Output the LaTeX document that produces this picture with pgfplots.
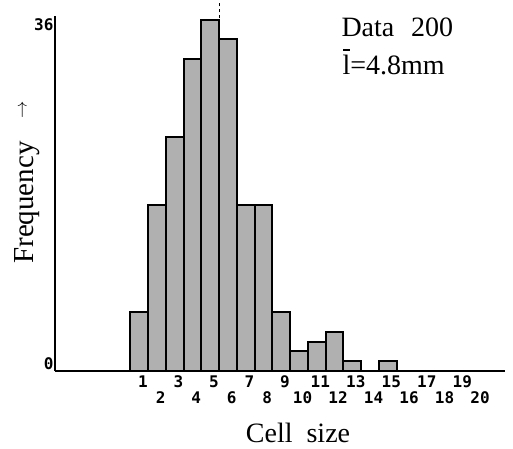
\documentclass[border=0pt]{standalone}
\usepackage{fontspec}
\setmainfont{Liberation Serif}
\setmonofont{DejaVu Sans Mono}
\usepackage{pgfplots}
\usepackage{pgfplotstable}
\pgfplotsset{compat=1.18}

% cell size (mm) and number of cells
\pgfplotstableread{
size freq
1  6
2  17
3  24
4  32
5  36
6  34
7  17
8  17
9  6
10 2
11 3
12 4
13 1
14 0
15 1
}\cellsizes

\newcommand\lbar{\ooalign{l\cr\hidewidth\rule[0.86em]{0.24em}{0.06em}\hidewidth\cr}}

\begin{document}
\begin{tikzpicture}
\begin{axis}[
  at={(0,0)}, anchor=south west,
  width=450bp, height=355bp, scale only axis,
  xmin=-3.75, xmax=21.6, ymin=0, ymax=36.4,
  axis x line=bottom, axis y line=left,
  axis line style={line width=1.5bp, -},
  major tick length=0pt,
  /pgf/number format/assume math mode=true,
  tick label style={font=\ttfamily\bfseries\fontsize{16bp}{18bp}\selectfont},
  xtick={1,3,...,19},
  extra x ticks={2,4,...,20},
  extra x tick style={xticklabel style={yshift=-16bp}},
  xticklabel style={xshift=3.5bp, yshift=-1bp},
  ytick={0},
  yticklabel style={xshift=2bp, yshift=7bp},
  extra y ticks={36},
  extra y tick style={yticklabel style={yshift=-12bp}},
  ybar, bar width=1,
  clip=false,
]
  % mean cell length marker
  \draw[dashed, line width=1bp] (axis cs:5.5,0) -- (axis cs:5.5,37.7);
  \addplot[draw=black, line width=2bp, fill=gray!62] table[x=size, y=freq] {\cellsizes};
\end{axis}
\node[rotate=90, anchor=base, font=\fontsize{29bp}{31bp}\selectfont] at (-22bp,168.5bp) {Frequency};
\node[rotate=90, font=\fontsize{17bp}{18bp}\selectfont] at (-31.5bp,261bp) {$\rightarrow$};
\node[anchor=base, font=\fontsize{28bp}{30bp}\selectfont] at (243bp,-71bp) {Cell\hspace{0.5em}size};
\node[anchor=base west, font=\fontsize{28bp}{30bp}\selectfont] at (283bp,334bp) {Data\hspace{0.6em}200};
\node[anchor=base west, font=\fontsize{28bp}{30bp}\selectfont] at (284bp,296bp) {\lbar=4.8mm};
\pgfresetboundingbox
\useasboundingbox (-55bp,-78bp) rectangle (458bp,371bp);
\end{tikzpicture}
\end{document}
